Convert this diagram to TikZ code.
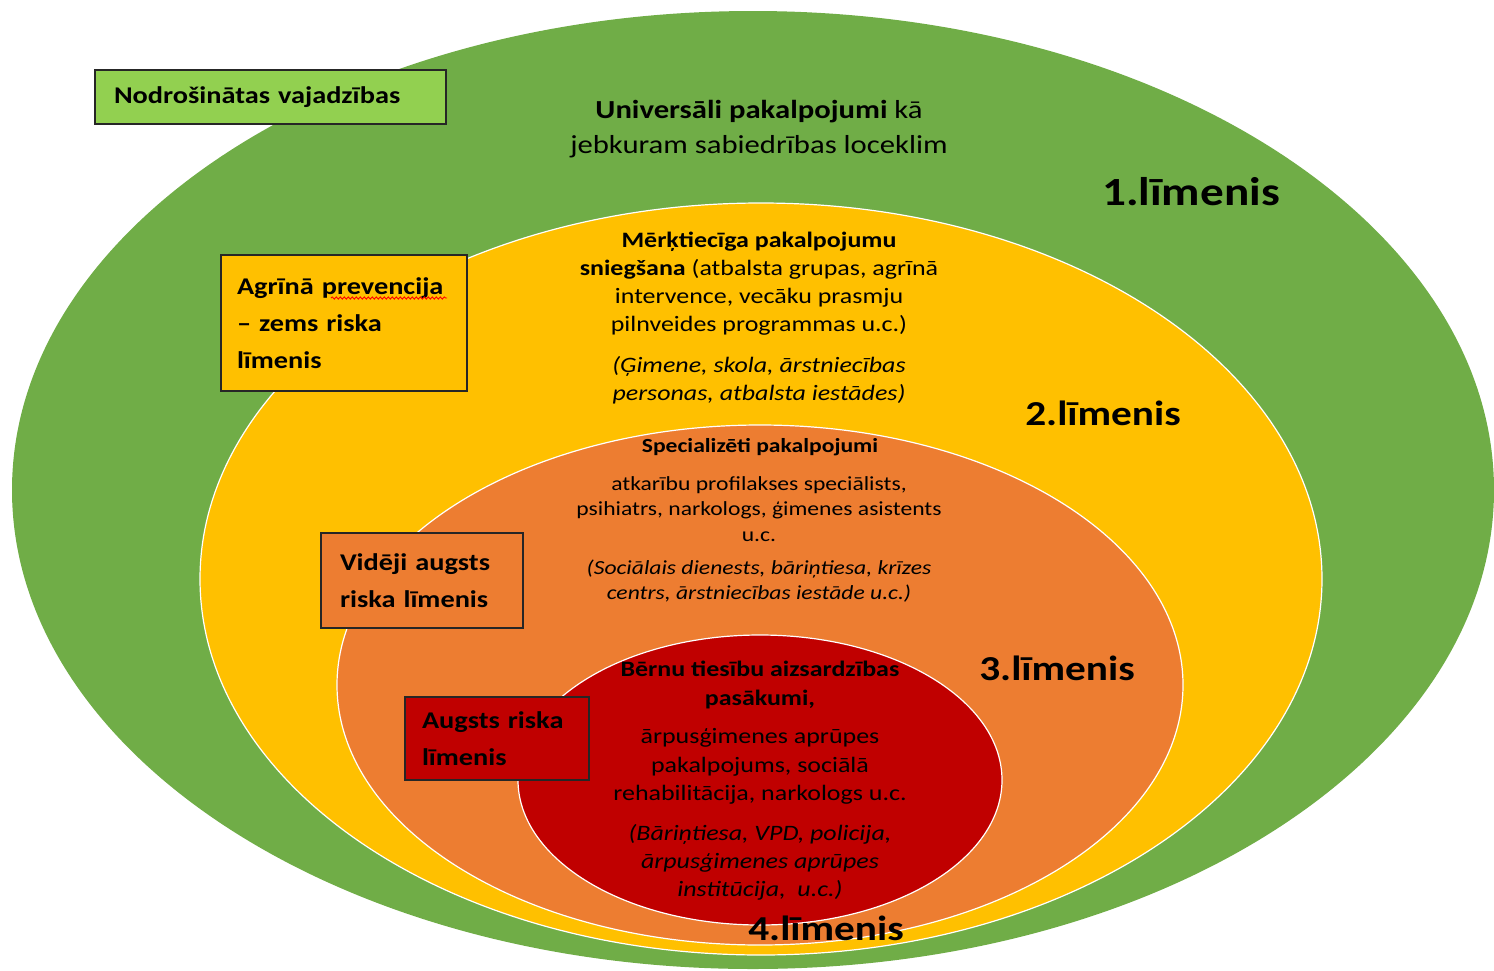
\documentclass[tikz,border=0pt]{standalone}
\usepackage{fontspec}
\setmainfont{Carlito}[FakeStretch=1.18]
\usetikzlibrary{decorations.pathmorphing}
\definecolor{lvlgreen}{HTML}{70AD47}
\definecolor{lvlyellow}{HTML}{FFC000}
\definecolor{lvlorange}{HTML}{ED7D31}
\definecolor{lvlred}{HTML}{C00000}
\definecolor{boxgreen}{HTML}{92D050}

\begin{document}
\begin{tikzpicture}[x=1pt, y=-1pt,
  ring/.style = {draw=white, line width=1.2pt},
  riskbox/.style = {draw=black!85, line width=1.6pt, align=left, inner xsep=19pt,
    font=\fontsize{24}{37}\selectfont\bfseries},
  service/.style = {align=center, font=\fontsize{22}{28}\selectfont},
  lvltag/.style = {font=\fontsize{35}{40}\selectfont\bfseries}]

\useasboundingbox (0,0) rectangle (1494,970);

%% levels
\begin{scope}
\clip (0,0) rectangle (1494,970);
\fill[lvlgreen] (753,490) ellipse [x radius=741pt, y radius=479pt];
\draw[ring, fill=lvlyellow] (761,579) ellipse [x radius=561pt, y radius=376pt];
\draw[ring, fill=lvlorange] (760,685) ellipse [x radius=423pt, y radius=260pt];
\draw[ring, fill=lvlred] (760,780) ellipse [x radius=242pt, y radius=145pt];
\end{scope}

%% risk boxes
\node[riskbox, fill=boxgreen, font=\fontsize{24}{28}\selectfont\bfseries,
  text width=313pt, minimum height=54pt] (needs) at (270.5,97) {Nodrošinātas vajadzības};
\node[riskbox, fill=lvlyellow, inner xsep=16pt, text width=214pt, minimum height=136pt]
  (early) at (344,323) {Agrīnā prevencija\\– zems riska\\līmenis};
\node[riskbox, fill=lvlorange, text width=164pt, minimum height=95pt]
  (medium) at (422,580.5) {Vidēji augsts\\riska līmenis};
\node[riskbox, fill=lvlred, inner xsep=17pt, text width=150pt, minimum height=83pt]
  (high) at (497,738.5) {Augsts riska\\līmenis};
\draw[red, line width=0.9pt, decorate, decoration={snake, amplitude=1.1pt, segment length=4pt}]
  (331,298) -- (447,298);

%% level 1
\node[service, font=\fontsize{26}{35}\selectfont] (univ) at (759,129.5)
  {\textbf{Universāli pakalpojumi} kā\\jebkuram sabiedrības loceklim};
\node[lvltag, font=\fontsize{40}{44}\selectfont\bfseries] (l1) at (1191,192) {1.līmenis};

%% level 2
\node[service] (target) at (759,284)
  {\textbf{Mērķtiecīga pakalpojumu}\\\textbf{sniegšana} (atbalsta grupas, agrīnā\\intervence, vecāku prasmju\\pilnveides programmas u.c.)};
\node[service, font=\fontsize{22}{28}\selectfont\itshape] (targetinst) at (759,380)
  {(Ģimene, skola, ārstniecības\\personas, atbalsta iestādes)};
\node[lvltag] (l2) at (1103,413) {2.līmenis};

%% level 3
\node[service, font=\fontsize{20}{25}\selectfont\bfseries] (spec) at (760,447) {Specializēti pakalpojumi};
\node[service, font=\fontsize{20}{25.5}\selectfont] (specbody) at (759,509)
  {atkarību profilakses speciālists,\\psihiatrs, narkologs, ģimenes asistents\\u.c.};
\node[service, font=\fontsize{20}{25}\selectfont\itshape] (specinst) at (759,581.5)
  {(Sociālais dienests, bāriņtiesa, krīzes\\centrs, ārstniecības iestāde u.c.)};
\node[lvltag] (l3) at (1057,668) {3.līmenis};

%% level 4
\node[service, font=\fontsize{22}{29}\selectfont\bfseries] (child) at (760,684.5)
  {Bērnu tiesību aizsardzības\\pasākumi,};
\node[service, font=\fontsize{22}{28.5}\selectfont] (childbody) at (760,766.5)
  {ārpusģimenes aprūpes\\pakalpojums, sociālā\\rehabilitācija, narkologs u.c.};
\node[service, font=\fontsize{22}{28}\selectfont\itshape] (childinst) at (760,862)
  {(Bāriņtiesa, VPD, policija,\\ārpusģimenes aprūpes\\institūcija,~ u.c.)};
\node[lvltag] (l4) at (826,928) {4.līmenis};

\end{tikzpicture}
\end{document}
